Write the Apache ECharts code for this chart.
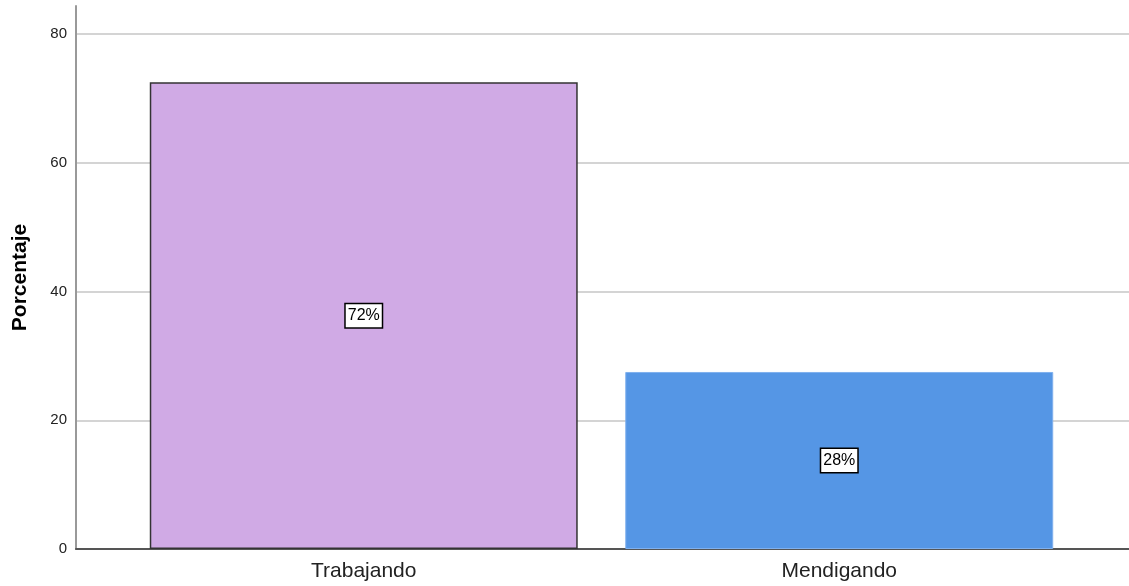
<!DOCTYPE html>
<html>
<head>
<meta charset="utf-8">
<script src="https://cdn.jsdelivr.net/npm/echarts@6/dist/echarts.min.js"></script>
<style>html,body{margin:0;padding:0;background:#fff}#c{width:1129px;height:586px}</style>
</head>
<body>
<div id="c"></div>
<script>
const categories = ['Trabajando', 'Mendigando'];
const values = [72.5, 27.5];
const labels = ['72%', '28%'];
const barColors = ['#D0AAE5', '#5596E5'];
const barBorders = ['#333333', '#7fb0ee'];
const yTicks = [0, 20, 40, 60, 80];

const chart = echarts.init(document.getElementById('c'), null, {renderer: 'canvas'});
const yMax = 84.35;
const gl = '#d4d4d4';
chart.setOption({
  animation: false,
  backgroundColor: '#fff',
  grid: [
    {left: 76, right: 0, top: 6, bottom: 37},
    {left: 126, right: 52, top: 6, bottom: 37}
  ],
  xAxis: [
    {gridIndex: 0, type: 'value', min: 0, max: 1, show: true,
     axisLine: {show: true, onZero: false, lineStyle: {color: '#555', width: 2}},
     axisTick: {show: false}, axisLabel: {show: false}, splitLine: {show: false}},
    {gridIndex: 1, type: 'category', data: categories,
     axisLine: {show: false}, axisTick: {show: false},
     axisLabel: {fontFamily: 'Liberation Sans, Arial', fontSize: 21, color: '#222', margin: 12}}
  ],
  yAxis: [
    {gridIndex: 0, type: 'value', min: 0, max: yMax, interval: 20,
     name: 'Porcentaje', nameLocation: 'middle', nameGap: 45,
     nameTextStyle: {fontFamily: 'Liberation Sans, Arial', fontSize: 21, fontWeight: 'bold', color: '#000'},
     axisLine: {show: true, lineStyle: {color: '#999', width: 2}},
     axisTick: {show: false},
     axisLabel: {fontFamily: 'Liberation Sans, Arial', fontSize: 15, color: '#222', margin: 9,
       showMaxLabel: false,
       formatter: v => yTicks.includes(v) ? String(v) : ''},
     splitLine: {show: true, lineStyle: {color: [gl, gl, gl, gl, gl, 'rgba(0,0,0,0)'], width: 2}}},
    {gridIndex: 1, type: 'value', min: 0, max: yMax, interval: 20, show: false, splitLine: {show: false}}
  ],
  series: [{
    type: 'bar', xAxisIndex: 1, yAxisIndex: 1,
    barWidth: '90%',
    data: values.map((v, i) => ({
      value: v,
      itemStyle: {color: barColors[i], borderColor: barBorders[i], borderWidth: i === 0 ? 1.5 : 1}
    })),
    label: {
      show: true, position: 'inside',
      formatter: p => labels[p.dataIndex],
      fontFamily: 'Liberation Sans, Arial', fontSize: 16, color: '#000',
      backgroundColor: '#fff', borderColor: '#000', borderWidth: 1.5,
      padding: [5, 2, 2, 2]
    }
  }]
});
</script>
</body>
</html>
